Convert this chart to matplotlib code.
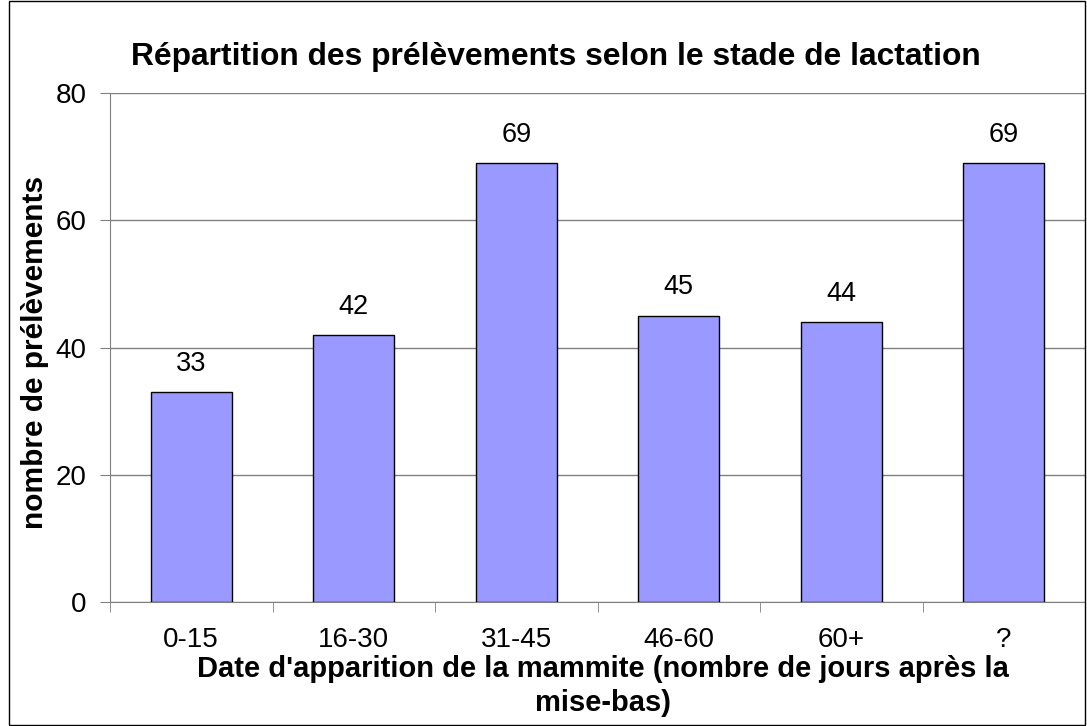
import matplotlib.pyplot as plt
from matplotlib.patches import Rectangle

plt.rcParams['font.family'] = ['Liberation Sans', 'DejaVu Sans']

categories = ['0-15', '16-30', '31-45', '46-60', '60+', '?']
values = [33, 42, 69, 45, 44, 69]

fig = plt.figure(figsize=(10.87, 7.26), dpi=100)
ax = fig.add_axes([110 / 1087, 1 - 602 / 726, (1085 - 110) / 1087, (602 - 93) / 726])

x = range(len(categories))
bars = ax.bar(x, values, width=0.5, color='#9999FF', edgecolor='#000000', linewidth=1, zorder=3)
for xi, v in zip(x, values):
    ax.text(xi, v + 2.4, str(v), ha='center', va='bottom', fontsize=19.5)

ax.set_xlim(-0.5, len(categories) - 0.5)
ax.set_ylim(0, 80)
ax.set_yticks([0, 20, 40, 60, 80])
ax.yaxis.grid(True, color='#808080', linewidth=1, zorder=0)
ax.set_xticks(x)
ax.set_xticklabels(categories, fontsize=20)
ax.tick_params(axis='x', length=0, pad=18)
ax.set_xticks([i - 0.5 for i in range(len(categories) + 1)], minor=True)
ax.tick_params(axis='x', which='minor', length=7, color='#808080', direction='out')
ax.tick_params(axis='y', labelsize=20, length=7, color='#808080', pad=10)

for s in ['top', 'right']:
    ax.spines[s].set_visible(False)
ax.spines['left'].set_color('#808080')
ax.spines['bottom'].set_color('#808080')

fig.text(35 / 1087, 1 - 352 / 726, 'nombre de prélèvements', rotation=90,
         ha='center', va='center', fontsize=21.5, fontweight='bold')
fig.text(603 / 1087, 1 - 686 / 726,
         "Date d'apparition de la mammite (nombre de jours après la\nmise-bas)",
         ha='center', va='center', fontsize=21, fontweight='bold', linespacing=1.25)
fig.text(556 / 1087, 1 - 57 / 726, 'Répartition des prélèvements selon le stade de lactation',
         ha='center', va='center', fontsize=22.9, fontweight='bold')

fig.patches.append(Rectangle((9 / 1087, 0.001), 1 - 9 / 1087 - 0.002, 0.997,
                             transform=fig.transFigure, fill=False, edgecolor='black', linewidth=1))

fig.savefig('out.png', dpi=100)
